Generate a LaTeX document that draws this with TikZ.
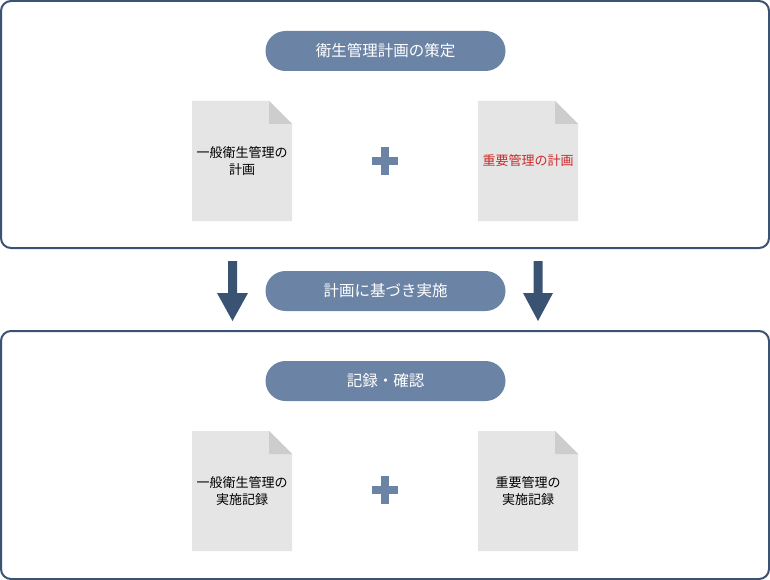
\documentclass[tikz,border=0pt]{standalone}
\usepackage{fontspec}
\setmainfont{Noto Sans CJK JP}
\definecolor{frame}{HTML}{3A5373}
\definecolor{pillc}{HTML}{6B84A6}
\definecolor{docc}{HTML}{E5E5E5}
\definecolor{foldc}{HTML}{CDCDCD}
\definecolor{redtxt}{HTML}{CC2A2A}
\tikzset{
  x=1pt,y=-1pt,
  panel/.style={draw=frame,line width=2pt,rounded corners=10pt,fill=white},
  pill/.style={fill=pillc,rounded corners=20pt,minimum width=240pt,minimum height=40pt,text=white,font=\fontsize{15.5}{17}\selectfont,inner sep=0pt},
  doctext/.style={font=\fontsize{13}{17}\selectfont,align=center,text=black},
  plusbar/.style={fill=pillc},
  downarrow/.style={fill=frame}
}
\newcommand{\docshape}[3]{%
  \fill[docc] (#1,#2) -- (#1+77,#2) -- (#1+100,#2+23) -- (#1+100,#2+120) -- (#1,#2+120) -- cycle;
  \fill[foldc] (#1+77,#2) -- (#1+100,#2+23) -- (#1+77,#2+23) -- cycle;
  \coordinate (#3) at (#1+50,#2+60);
}
\newcommand{\plussign}[3]{%
  \fill[plusbar] (#1-4,#2-14) rectangle (#1+4,#2+14);
  \fill[plusbar] (#1-13,#2-4) rectangle (#1+13,#2+4);
  \coordinate (#3) at (#1,#2);
}
\begin{document}
\begin{tikzpicture}
\useasboundingbox (0,0) rectangle (770,580);
% panels
\draw[panel] (1,1) rectangle (769,248);
\draw[panel] (1,331) rectangle (769,579);
% pills
\node[pill] (p1) at (385.5,51) {衛生管理計画の策定};
\node[pill] (p2) at (385.5,291) {計画に基づき実施};
\node[pill] (p3) at (385.5,381) {記録・確認};
% arrows
\fill[downarrow] (228,261) -- (237,261) -- (237,293) -- (248,293) -- (232.5,321) -- (217,293) -- (228,293) -- cycle;
\fill[downarrow] (533.5,261) -- (542.5,261) -- (542.5,293) -- (553,293) -- (538,321) -- (523,293) -- (533.5,293) -- cycle;
% top documents
\docshape{192}{101}{d1c}
\docshape{478}{101}{d2c}
\node[doctext] (d1) at (d1c) {一般衛生管理の\\計画};
\node[doctext,text=redtxt] (d2) at (d2c) {重要管理の計画};
\plussign{385}{161}{pl1}
% bottom documents
\docshape{192}{431}{d3c}
\docshape{478}{431}{d4c}
\node[doctext] (d3) at (d3c) {一般衛生管理の\\実施記録};
\node[doctext] (d4) at (d4c) {重要管理の\\実施記録};
\plussign{385}{490}{pl2}
\end{tikzpicture}
\end{document}
